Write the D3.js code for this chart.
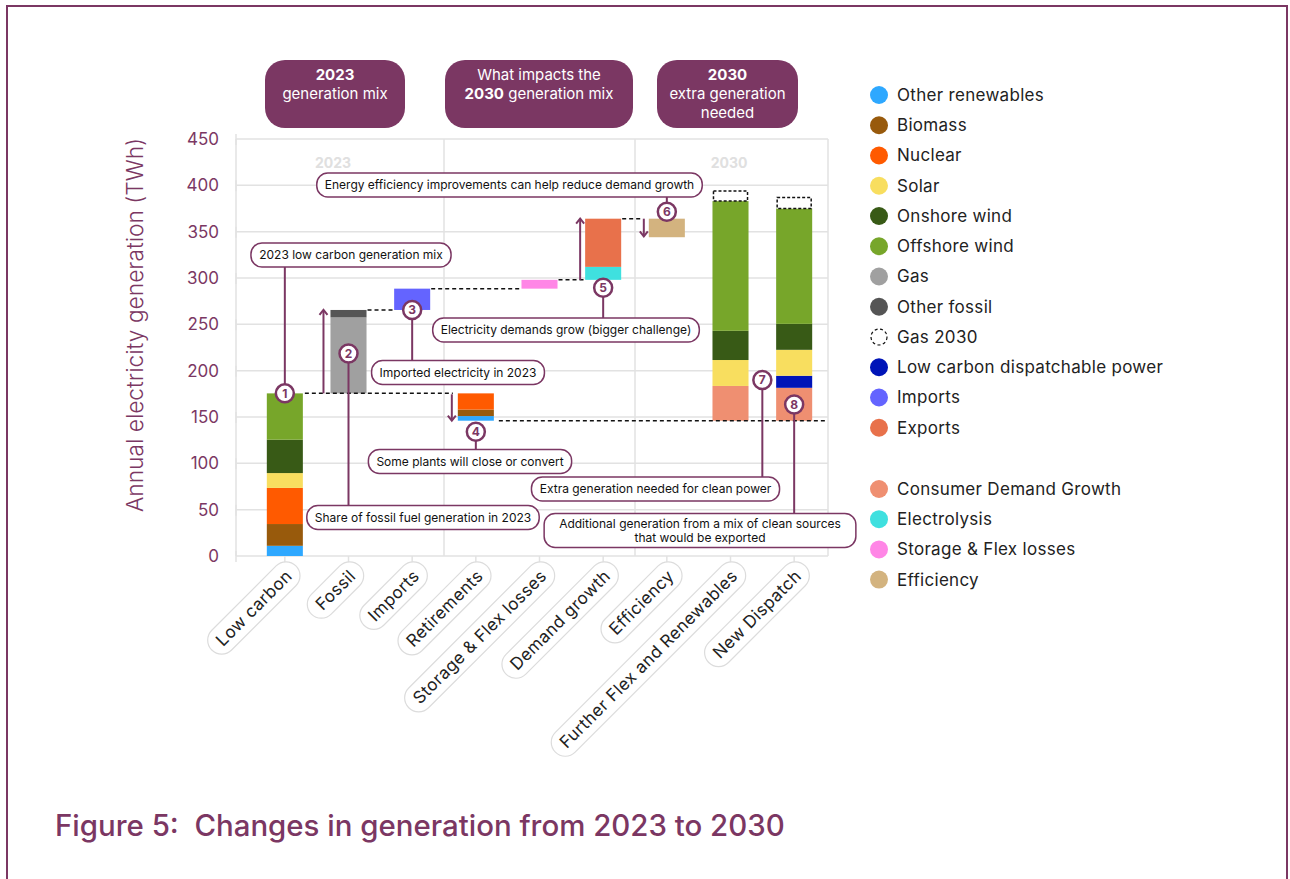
<!DOCTYPE html>
<html>
<head>
<meta charset="utf-8">
<script src="https://cdn.jsdelivr.net/npm/d3@7"></script>
<style>
  body { margin: 0; background: #fff; }
  svg { display: block; font-family: Inter, "Noto Sans", sans-serif; }
</style>
</head>
<body>
<script>
// x axis categories
var categories = ["Low carbon", "Fossil", "Imports", "Retirements", "Storage & Flex losses",
  "Demand growth", "Efficiency", "Further Flex and Renewables", "New Dispatch"];
var yTicks = [0, 50, 100, 150, 200, 250, 300, 350, 400, 450];

// legend
var legendNames = ["Other renewables", "Biomass", "Nuclear", "Solar", "Onshore wind", "Offshore wind",
  "Gas", "Other fossil", "Gas 2030", "Low carbon dispatchable power", "Imports", "Exports",
  "Consumer Demand Growth", "Electrolysis", "Storage & Flex losses", "Efficiency"];
var legendColors = ["#2ea8ff", "#985a0c", "#ff5a00", "#f8de5f", "#385a16", "#77a62a",
  "#a0a0a0", "#555555", "none", "#0014b8", "#6464ff", "#e8714b",
  "#ef8f71", "#3fe0df", "#ff86e6", "#d3b37f"];

// pieces of each bar, bottom to top (TWh)
var lowCarbon = [["Other renewables", 11], ["Biomass", 23.5], ["Nuclear", 39], ["Solar", 16], ["Onshore wind", 36], ["Offshore wind", 50]];
var fossil = [["Gas", 82], ["Other fossil", 8]];
var imports = [["Imports", 23]];
var retirements = [["Other renewables", 5], ["Biomass", 7], ["Nuclear", 17.5]];
var storageFlex = [["Storage & Flex losses", 9.5]];
var demandGrowth = [["Electrolysis", 14], ["Exports", 52]];
var efficiency = [["Efficiency", 20]];
var furtherFlex = [["Consumer Demand Growth", 37.5], ["Solar", 28], ["Onshore wind", 31.5], ["Offshore wind", 140], ["Gas 2030", 12]];
var newDispatch = [["Consumer Demand Growth", 35.5], ["Low carbon dispatchable power", 13], ["Solar", 28], ["Onshore wind", 28], ["Offshore wind", 124.5], ["Gas 2030", 13]];

var purple = "#7b3763";
var color = d3.scaleOrdinal().domain(legendNames).range(legendColors);
function total(a) { return d3.sum(a, function(d) { return d[1]; }); }

// waterfall bases
var lowTop = total(lowCarbon);
var fossilTop = lowTop + total(fossil);
var importsTop = fossilTop + total(imports);
var floor = lowTop - total(retirements);
var storageTop = importsTop + total(storageFlex);
var demandTop = storageTop + total(demandGrowth);
var effBase = demandTop - total(efficiency);

var bars = [
  {cat: categories[0], base: 0, parts: lowCarbon},
  {cat: categories[1], base: lowTop, parts: fossil},
  {cat: categories[2], base: fossilTop, parts: imports},
  {cat: categories[3], base: floor, parts: retirements},
  {cat: categories[4], base: importsTop, parts: storageFlex},
  {cat: categories[5], base: storageTop, parts: demandGrowth},
  {cat: categories[6], base: effBase, parts: efficiency},
  {cat: categories[7], base: floor, parts: furtherFlex},
  {cat: categories[8], base: floor, parts: newDispatch}
];

var W = 1290, H = 879;
var left = 236, right = 828;

var svg = d3.select("body").append("svg").attr("width", W).attr("height", H);

// frame
svg.append("path")
  .attr("d", "M7," + H + "V6H1287V" + H)
  .attr("fill", "none").attr("stroke", purple).attr("stroke-width", 2);

var y = d3.scaleLinear().domain([0, 450]).range([556, 139]);
var x = d3.scaleBand().domain(categories).range([253, 826]).paddingInner(0.434).paddingOuter(0.217);
var bw = x.bandwidth();
function cx(c) { return x(c) + bw / 2; }

// grid
var grid = svg.append("g").attr("stroke", "#e2e2e2").attr("stroke-width", 1.5);
grid.selectAll(".h").data(yTicks).enter().append("line")
  .attr("x1", left).attr("x2", right)
  .attr("y1", function(d) { return y(d); }).attr("y2", function(d) { return y(d); });
grid.selectAll(".tk").data(yTicks).enter().append("line")
  .attr("x1", left).attr("x2", left)
  .attr("y1", function(d) { return y(d) - 5; }).attr("y2", function(d) { return y(d) + 6; });
grid.selectAll(".v").data([left, (x(categories[2]) + bw + x(categories[3])) / 2, (x(categories[5]) + bw + x(categories[6])) / 2, right])
  .enter().append("line")
  .attr("x1", function(d) { return d; }).attr("x2", function(d) { return d; })
  .attr("y1", y(450)).attr("y2", y(0));
grid.selectAll(".xt").data(categories).enter().append("line")
  .attr("x1", function(d) { return cx(d); }).attr("x2", function(d) { return cx(d); })
  .attr("y1", y(0)).attr("y2", y(0) + 7);

// y axis labels
svg.append("g").selectAll("text").data(yTicks).enter().append("text")
  .attr("x", 219).attr("y", function(d) { return y(d); }).attr("dy", "0.35em")
  .attr("text-anchor", "end").attr("fill", purple).attr("font-size", 17)
  .text(function(d) { return d; });

var ytitle = svg.append("text")
  .attr("transform", "translate(143,325) rotate(-90)")
  .attr("text-anchor", "middle").attr("fill", purple).attr("font-size", 18).attr("font-weight", 300)
  .text("Annual electricity generation (TWh)");
ytitle.attr("font-size", 18 * 374 / ytitle.node().getComputedTextLength());

// faint year labels
svg.append("text").attr("x", 333).attr("y", 168).attr("text-anchor", "middle")
  .attr("fill", "#e0e0e0").attr("font-size", 14).attr("font-weight", 700).text("2023");
svg.append("text").attr("x", 729).attr("y", 168).attr("text-anchor", "middle")
  .attr("fill", "#e0e0e0").attr("font-size", 14).attr("font-weight", 700).text("2030");

// bars
bars.forEach(function(b) {
  var acc = b.base;
  b.parts.forEach(function(p) {
    var y0 = acc, y1 = acc + p[1];
    acc = y1;
    var gas = p[0] === "Gas 2030";
    svg.append("rect")
      .attr("x", x(b.cat) + (gas ? 1 : 0)).attr("width", bw - (gas ? 2 : 0))
      .attr("y", y(y1) + (gas ? 1 : 0)).attr("height", y(y0) - y(y1) - (gas ? 1 : 0))
      .attr("fill", gas ? "#fff" : color(p[0]))
      .attr("stroke", gas ? "#111" : "none")
      .attr("stroke-width", 1.5).attr("stroke-dasharray", gas ? "3,2" : null);
  });
});

// dashed connectors
function dash(x1, x2, v) {
  svg.append("line").attr("x1", x1).attr("x2", x2).attr("y1", y(v)).attr("y2", y(v))
    .attr("stroke", "#111").attr("stroke-width", 1.5).attr("stroke-dasharray", "4,3");
}
function xr(c) { return x(c) + bw; }
dash(xr(categories[0]) + 2, x(categories[3]) - 5, lowTop);
dash(xr(categories[1]) + 1, x(categories[2]) - 1, fossilTop);
dash(xr(categories[2]) + 1, x(categories[4]) - 1, importsTop);
dash(xr(categories[4]) + 1, x(categories[5]) - 1, storageTop);
dash(xr(categories[5]) + 1, x(categories[6]) - 6, demandTop);
dash(xr(categories[3]) + 5, right - 2, floor);

// arrows
function arrow(ax, v0, v1) {
  var y0 = y(v0), y1 = y(v1), s = y1 < y0 ? 1 : -1;
  var g = svg.append("g").attr("stroke", purple).attr("stroke-width", 2).attr("fill", "none");
  g.append("line").attr("x1", ax).attr("x2", ax).attr("y1", y0).attr("y2", y1);
  g.append("path").attr("d", "M" + (ax - 4) + "," + (y1 + s * 5) + "L" + ax + "," + y1 + "L" + (ax + 4) + "," + (y1 + s * 5));
}
arrow(x(categories[1]) - 7, lowTop, fossilTop);
arrow(x(categories[3]) - 6, lowTop - 1, floor);
arrow(x(categories[5]) - 5, storageTop, demandTop);
arrow(x(categories[6]) - 5, demandTop, effBase + 1);

// callouts: number, circle position, label text lines, label centre
var callouts = [
  {n: 1, x: cx(categories[0]), y: y(lowTop), lines: ["2023 low carbon generation mix"], lx: 351, ly: 255},
  {n: 2, x: cx(categories[1]), y: y(lowTop + 43), lines: ["Share of fossil fuel generation in 2023"], lx: 423, ly: 517.5},
  {n: 3, x: cx(categories[2]), y: y(fossilTop), lines: ["Imported electricity in 2023"], lx: 458, ly: 372.5},
  {n: 4, x: cx(categories[3]), y: y(floor) + 11, lines: ["Some plants will close or convert"], lx: 470, ly: 461.5},
  {n: 5, x: cx(categories[5]), y: y(storageTop) + 8, lines: ["Electricity demands grow (bigger challenge)"], lx: 566, ly: 330},
  {n: 6, x: cx(categories[6]), y: y(demandTop) - 7, lines: ["Energy efficiency improvements can help reduce demand growth"], lx: 509.5, ly: 185},
  {n: 7, x: (cx(categories[7]) + cx(categories[8])) / 2, y: y(190), lines: ["Extra generation needed for clean power"], lx: 655.5, ly: 489},
  {n: 8, x: cx(categories[8]), y: y(floor + 17.5), lines: ["Additional generation from a mix of clean sources", "that would be exported"], lx: 700, ly: 530.5, pad: 30}
];

var lead = svg.append("g"), boxes = svg.append("g"), circles = svg.append("g");
callouts.forEach(function(c) {
  var h = c.lines.length * 14 + (c.lines.length > 1 ? 6 : 10);
  lead.append("line").attr("x1", c.x).attr("x2", c.x).attr("y1", c.y).attr("y2", c.ly)
    .attr("stroke", purple).attr("stroke-width", 2);
  var g = boxes.append("g");
  var r = g.append("rect");
  var t = g.append("text").attr("text-anchor", "middle").attr("font-size", 12).attr("fill", "#111");
  c.lines.forEach(function(l, i) {
    t.append("tspan").attr("x", c.lx).attr("y", c.ly - (c.lines.length - 1) * 7 + i * 14).attr("dy", "0.35em").text(l);
  });
  var w = t.node().getBBox().width + (c.pad || 16);
  r.attr("x", c.lx - w / 2).attr("y", c.ly - h / 2).attr("width", w).attr("height", h)
    .attr("rx", 11).attr("fill", "#fff").attr("stroke", purple).attr("stroke-width", 1.5);
  circles.append("circle").attr("cx", c.x).attr("cy", c.y).attr("r", 9)
    .attr("fill", "#fff").attr("stroke", purple).attr("stroke-width", 2.5);
  circles.append("text").attr("x", c.x).attr("y", c.y).attr("dy", "0.36em")
    .attr("text-anchor", "middle").attr("font-size", 12).attr("font-weight", 700)
    .attr("fill", purple).text(c.n);
});

// x labels in pills
categories.forEach(function(c) {
  var g = svg.append("g").attr("transform", "translate(" + (cx(c) + 4) + ",573) rotate(-45)");
  var r = g.append("rect");
  var t = g.append("text").attr("text-anchor", "end").attr("dy", "0.35em")
    .attr("font-size", 17).attr("letter-spacing", 0.4).attr("fill", "#222").text(c);
  var bb = t.node().getBBox();
  r.attr("x", bb.x - 10).attr("y", -14).attr("width", bb.width + 20).attr("height", 28)
    .attr("rx", 14).attr("fill", "#fff").attr("stroke", "#dcdcdc").attr("stroke-width", 1.2);
});

// header boxes
var headers = [
  {x0: 265, x1: 405, lines: [[["2023", 700]], [["generation mix", 400]]]},
  {x0: 445, x1: 633, lines: [[["What impacts the", 400]], [["2030", 700], [" generation mix", 400]]]},
  {x0: 657, x1: 798, lines: [[["2030", 700]], [["extra generation", 400]], [["needed", 400]]]}
];
headers.forEach(function(h) {
  svg.append("rect").attr("x", h.x0).attr("y", 60).attr("width", h.x1 - h.x0).attr("height", 68)
    .attr("rx", 20).attr("fill", purple);
  h.lines.forEach(function(l, i) {
    var t = svg.append("text").attr("x", (h.x0 + h.x1) / 2).attr("y", 80 + i * 19)
      .attr("text-anchor", "middle").attr("fill", "#fff").attr("font-size", 15);
    l.forEach(function(s) { t.append("tspan").attr("font-weight", s[1]).text(s[0]); });
  });
});

// legend
var leg = svg.append("g");
legendNames.forEach(function(n, i) {
  var ly = i < 12 ? 95 + i * 30.25 : 489 + (i - 12) * 30.2;
  var gas = n === "Gas 2030";
  leg.append("circle").attr("cx", 879).attr("cy", ly).attr("r", gas ? 8 : 9)
    .attr("fill", gas ? "#fff" : color(n))
    .attr("stroke", gas ? "#111" : "none").attr("stroke-width", 1.2)
    .attr("stroke-dasharray", gas ? "3,2.5" : null);
  leg.append("text").attr("x", 897).attr("y", ly).attr("dy", "0.35em")
    .attr("font-size", 17).attr("letter-spacing", 0.3).attr("fill", "#222").text(n);
});

// title
var title = svg.append("text").attr("x", 55).attr("y", 836).attr("fill", purple)
  .attr("font-size", 28).attr("font-weight", 500).attr("xml:space", "preserve")
  .style("white-space", "pre")
  .text("Figure 5:  Changes in generation from 2023 to 2030");
title.attr("font-size", 28 * 730 / title.node().getComputedTextLength());
</script>
</body>
</html>
